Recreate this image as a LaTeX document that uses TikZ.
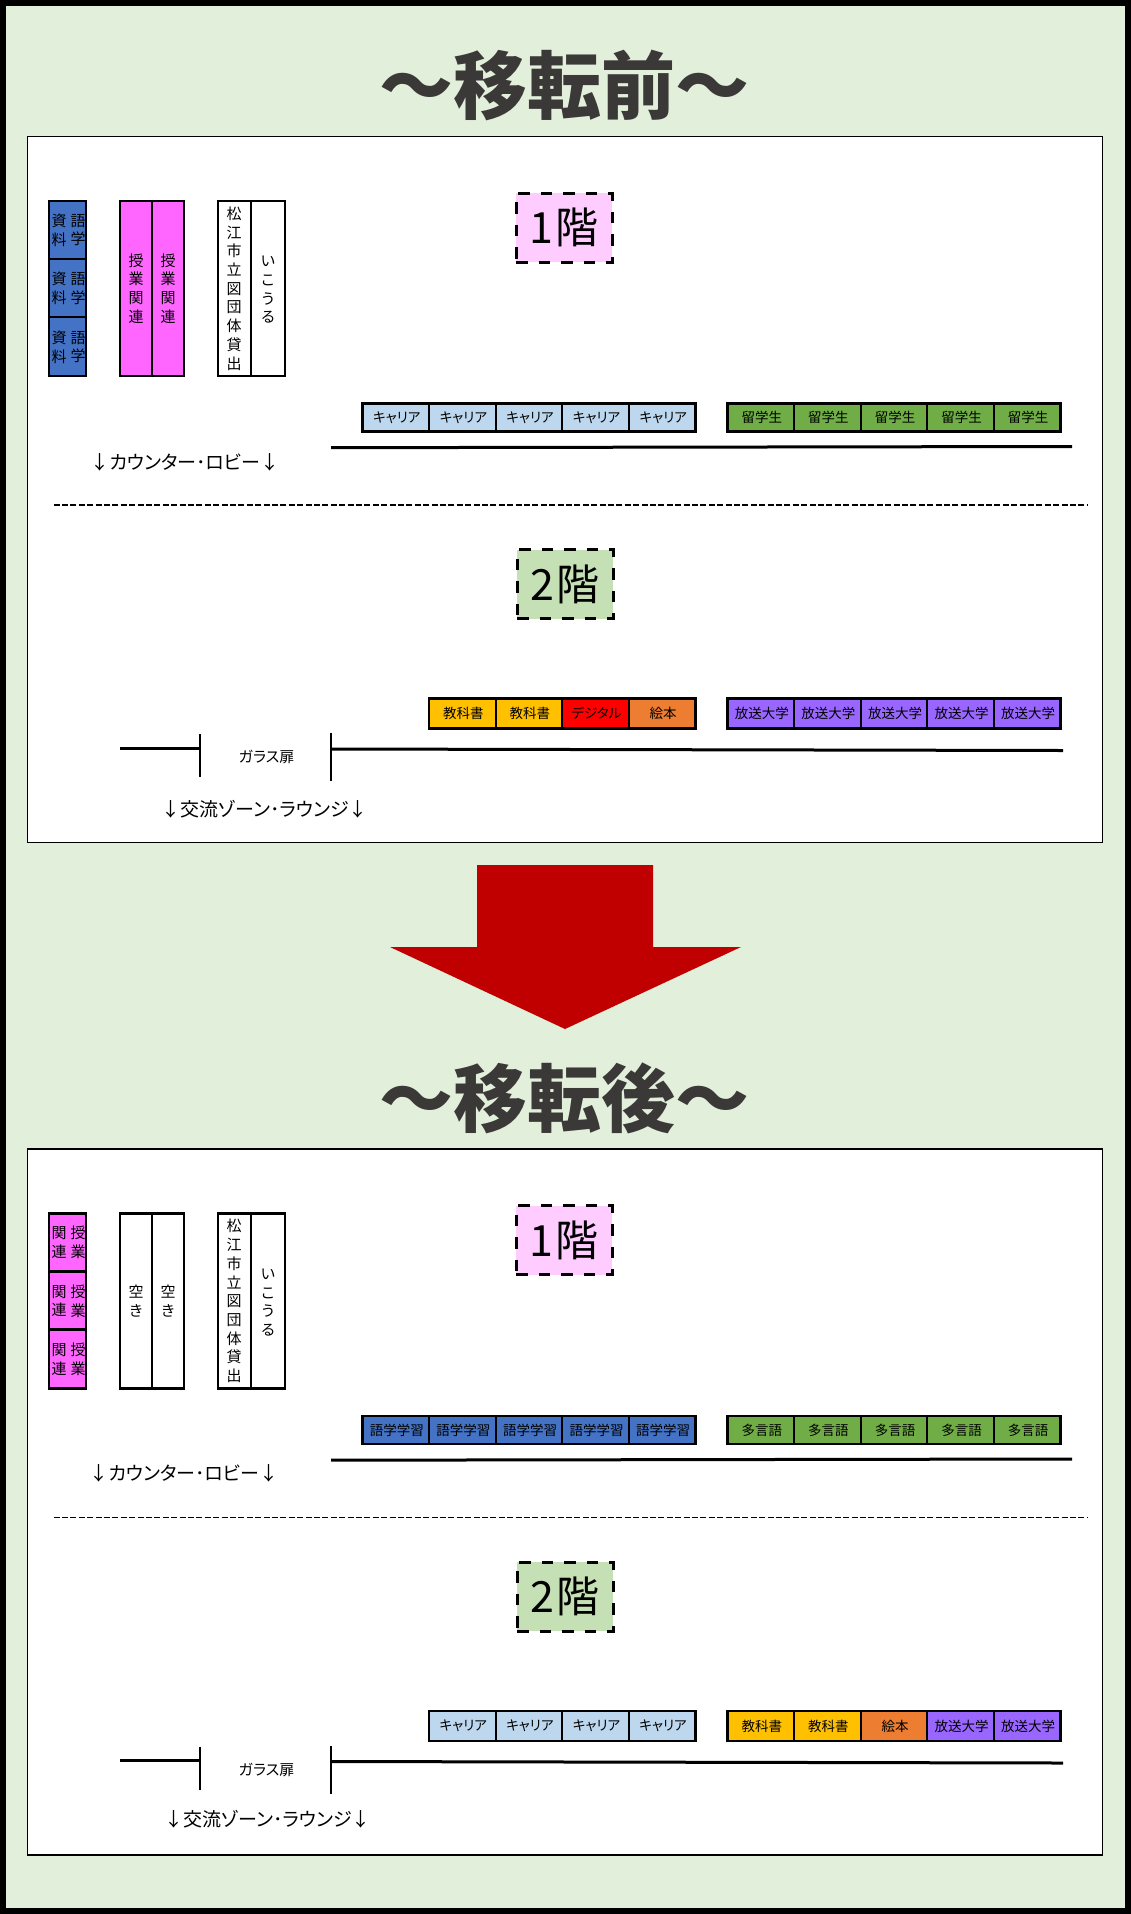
\documentclass[tikz,border=0pt]{standalone}
\usepackage{fontspec}
\newfontfamily\cjk[RawFeature=+palt]{Noto Sans CJK JP}
\definecolor{bgGreen}{HTML}{E2EFDA}
\definecolor{titleGray}{HTML}{3B3838}
\definecolor{arrowRed}{HTML}{C00000}
\definecolor{gakuBlue}{HTML}{4472C4}
\definecolor{careerBlue}{HTML}{BDD7EE}
\definecolor{leafGreen}{HTML}{70AD47}
\definecolor{hotPink}{HTML}{FF66FF}
\definecolor{amber}{HTML}{FFC000}
\definecolor{pureRed}{HTML}{FF0000}
\definecolor{orangeBook}{HTML}{ED7D31}
\definecolor{violet}{HTML}{9966FF}
\definecolor{floorPink}{HTML}{FFCCFF}
\definecolor{floorGreen}{HTML}{C5E0B4}
\tikzset{
  titletext/.style={font={\cjk\bfseries\fontsize{74}{80}\selectfont},text=titleGray,inner sep=0pt},
  panelbox/.style={draw=black,line width=1.5pt,fill=white,inner sep=0pt},
  cellbox/.style={draw=black,line width=2.2pt,inner sep=0pt,font={\cjk\fontsize{13.5}{16}\selectfont}},
  colbox/.style={draw=black,line width=2.2pt,inner sep=0pt},
  vtext/.style={font={\cjk\fontsize{15}{18.7}\selectfont},align=center,inner sep=0pt},
  floorbox/.style={draw=black,line width=3pt,dash pattern=on 11.5pt off 11pt,inner sep=0pt,minimum width=96pt,minimum height=69pt,font={\cjk\fontsize{43}{48}\selectfont}},
  zonelabel/.style={font={\cjk\fontsize{19}{22}\selectfont},inner sep=0pt},
  doorlabel/.style={font={\cjk\fontsize{15}{16}\selectfont},inner sep=0pt},
  wall/.style={draw=black,line width=3pt},
  doorline/.style={draw=black,line width=2pt},
  divider/.style={draw=black,line width=1.3pt,dash pattern=on 6pt off 2.4pt},
}
% name, left x, centre y, height, fill/text list
\newcommand{\shelfrow}[5]{%
  \foreach \fc/\tx [count=\i] in {#5}{%
    \node[cellbox,fill=\fc,minimum width=66.6pt,minimum height=#4pt] (#1-\i) at ({#2+66.6*(\i-0.5)},{#3}) {\kern2pt\raisebox{-1pt}{\tx}};
  }%
}
% prefix, column fill, left chars, right chars
\newcommand{\leftcolumn}[4]{%
  \node[colbox,fill=#2,minimum width=37pt,minimum height=58pt] (#1a) at (67.5,230) {};
  \node[colbox,fill=#2,minimum width=37pt,minimum height=58pt] (#1b) at (67.5,288) {};
  \node[colbox,fill=#2,minimum width=37pt,minimum height=59pt] (#1c) at (67.5,346.5) {};
  \node[vtext] (#1al) at (59,230) {#3};
  \node[vtext] (#1ar) at (78,230) {#4};
  \node[vtext] (#1bl) at (59,288.5) {#3};
  \node[vtext] (#1br) at (78,288.5) {#4};
  \node[vtext] (#1cl) at (59,347) {#3};
  \node[vtext] (#1cr) at (78,347) {#4};
}
% prefix, fill, text
\newcommand{\midcolumn}[3]{%
  \node[colbox,fill=#2,minimum width=32pt,minimum height=175pt] (#1a) at (136,288.5) {};
  \node[colbox,fill=#2,minimum width=32pt,minimum height=175pt] (#1b) at (168,288.5) {};
  \node[vtext] (#1at) at (136,288.5) {#3};
  \node[vtext] (#1bt) at (168,288.5) {#3};
}
% parts common to both panels; #1 prefix
\newcommand{\commonparts}[1]{%
  \node[colbox,fill=white,minimum width=33pt,minimum height=175pt] (#1ma) at (234.5,288.5) {};
  \node[colbox,fill=white,minimum width=34pt,minimum height=175pt] (#1mb) at (268,288.5) {};
  \node[vtext] (#1mat) at (234,288.5) {松\\江\\市\\立\\図\\団\\体\\貸\\出};
  \node[vtext] (#1mbt) at (268,290) {い\\こ\\う\\る};
  \node[floorbox,fill=floorPink] (#1fa) at (564,227.5) {1\kern3pt 階};
  \node[floorbox,fill=floorGreen] (#1fb) at (565,584) {2\kern3pt 階};
  \coordinate (#1wa) at (331,447.7);
  \coordinate (#1wb) at (1072,446.5);
  \draw[wall] (#1wa) -- (#1wb);
  \coordinate (#1da) at (53.5,505);
  \coordinate (#1db) at (1087.5,505);
  \draw[divider] (#1da) -- (#1db);
  \coordinate (#1la) at (120,748);
  \coordinate (#1lb) at (200,748);
  \draw[wall] (#1la) -- (#1lb);
  \coordinate (#1pa) at (200,734);
  \coordinate (#1pb) at (200,777);
  \draw[doorline] (#1pa) -- (#1pb);
  \coordinate (#1qa) at (331,733);
  \coordinate (#1qb) at (331,781);
  \draw[doorline] (#1qa) -- (#1qb);
  \coordinate (#1ra) at (331,749);
  \coordinate (#1rb) at (1063,750.5);
  \draw[wall] (#1ra) -- (#1rb);
  \node[doorlabel] (#1door) at (266.5,757) {ガラス扉};
}
\begin{document}
\begin{tikzpicture}[x=1pt,y=-1pt]
\useasboundingbox (0,0) rectangle (1131,1914);
\fill[black] (0,0) rectangle (1131,1914);
\fill[bgGreen] (6,6) rectangle (1125,1908);
% titles
\node[titletext] (title1) at (564.5,85) {～移転前～};
\node[titletext] (title2) at (564.5,1098) {～移転後～};
% panels
\node[panelbox,minimum width=1075pt,minimum height=706pt] (panel1) at (564.75,489.5) {};
\node[panelbox,minimum width=1075pt,minimum height=706pt] (panel2) at (564.75,1502) {};
% big arrow
\fill[arrowRed] (477,865) -- (653,865) -- (653,947) -- (741,947) -- (565,1029) -- (390,947) -- (477,947) -- cycle;
% before
\leftcolumn{ba}{gakuBlue}{資\\料}{語\\学}
\midcolumn{bb}{hotPink}{授\\業\\関\\連}
\commonparts{bc}
\shelfrow{bs1}{362.5}{417.5}{28}{careerBlue/キャリア,careerBlue/キャリア,careerBlue/キャリア,careerBlue/キャリア,careerBlue/キャリア}
\shelfrow{bs2}{727.5}{417.5}{28}{leafGreen/留学生,leafGreen/留学生,leafGreen/留学生,leafGreen/留学生,leafGreen/留学生}
\shelfrow{bs3}{429}{713.5}{30}{amber/教科書,amber/教科書,pureRed/デジタル,orangeBook/絵本}
\shelfrow{bs4}{727.5}{713.5}{30}{violet/放送大学,violet/放送大学,violet/放送大学,violet/放送大学,violet/放送大学}
\node[zonelabel] (bz1) at (185,462) {↓カウンター･ロビー↓};
\node[zonelabel] (bz2) at (264.5,809) {↓交流ゾーン･ラウンジ↓};
% after
\begin{scope}[shift={(0,1012.5)}]
\leftcolumn{aa}{hotPink}{関\\連}{授\\業}
\midcolumn{ab}{white}{空\\き}
\commonparts{ac}
\shelfrow{as1}{362.5}{417.5}{28}{gakuBlue/語学学習,gakuBlue/語学学習,gakuBlue/語学学習,gakuBlue/語学学習,gakuBlue/語学学習}
\shelfrow{as2}{727.5}{417.5}{28}{leafGreen/多言語,leafGreen/多言語,leafGreen/多言語,leafGreen/多言語,leafGreen/多言語}
\shelfrow{as3}{429}{713.5}{30}{careerBlue/キャリア,careerBlue/キャリア,careerBlue/キャリア,careerBlue/キャリア}
\shelfrow{as4}{727.5}{713.5}{30}{amber/教科書,amber/教科書,orangeBook/絵本,violet/放送大学,violet/放送大学}
\node[zonelabel] (az1) at (184,460.5) {↓カウンター･ロビー↓};
\node[zonelabel] (az2) at (267.5,806.5) {↓交流ゾーン･ラウンジ↓};
\end{scope}
\end{tikzpicture}
\end{document}
